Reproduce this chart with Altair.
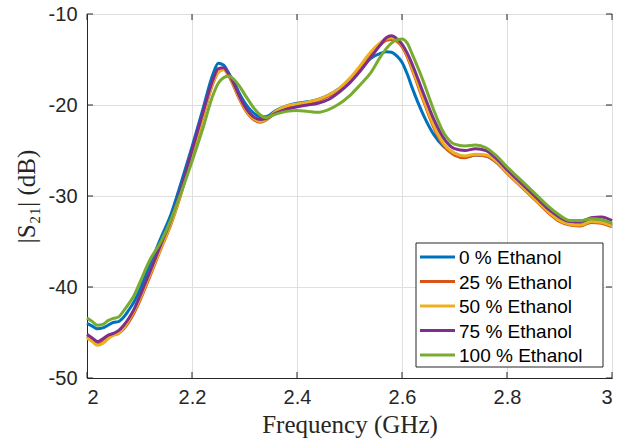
import altair as alt
import pandas as pd

freq = [2.00, 2.01, 2.02, 2.03, 2.04, 2.05, 2.06, 2.07, 2.08, 2.09, 2.10,
        2.12, 2.14, 2.16, 2.18, 2.20, 2.22, 2.24,
        2.25, 2.26, 2.27, 2.28, 2.29, 2.30,
        2.32, 2.33, 2.34,
        2.36, 2.38, 2.40, 2.42, 2.44, 2.46, 2.48, 2.50, 2.52, 2.54, 2.56,
        2.57, 2.58, 2.59, 2.60, 2.61,
        2.62, 2.64, 2.66, 2.68, 2.70, 2.72, 2.74, 2.76, 2.78, 2.80,
        2.82, 2.84, 2.86, 2.88, 2.90, 2.92, 2.94, 2.96, 2.98, 3.00]

s0 = [-44.0, -44.3, -44.6, -44.5, -44.2, -43.9, -43.8, -43.3, -42.5, -41.6, -40.4,
      -37.5, -34.7, -32.0, -28.4, -24.6, -20.6, -16.6,
      -15.4, -15.6, -16.5, -17.5, -18.7, -19.7,
      -21.0, -21.3, -21.3,
      -20.6, -20.1, -19.8, -19.65, -19.4, -18.9, -18.2, -17.2, -16.0, -14.9, -14.3,
      -14.15, -14.2, -14.6, -15.3, -16.6,
      -18.2, -21.0, -23.2, -24.6, -25.3, -25.7, -25.5, -25.6, -26.3, -27.4,
      -28.5, -29.6, -30.7, -31.8, -32.6, -33.0, -33.1, -32.8, -32.8, -33.2]

s25 = [-45.4, -45.8, -46.2, -46.0, -45.6, -45.3, -45.1, -44.6, -43.8, -42.8, -41.6,
       -38.8, -35.9, -33.1, -29.6, -25.5, -21.5, -17.6,
       -16.4, -16.1, -16.8, -18.0, -19.3, -20.4,
       -21.7, -21.9, -21.7,
       -20.8, -20.2, -20.0, -19.8, -19.5, -19.0, -18.3, -17.3, -15.9, -14.4, -13.3,
       -12.9, -12.8, -13.0, -13.6, -14.7,
       -16.2, -19.4, -22.4, -24.5, -25.5, -25.8, -25.5, -25.6, -26.3, -27.5,
       -28.6, -29.7, -30.8, -31.9, -32.8, -33.2, -33.3, -32.9, -33.0, -33.4]

s50 = [-45.6, -46.0, -46.4, -46.2, -45.7, -45.3, -45.1, -44.5, -43.6, -42.6, -41.4,
       -38.6, -35.8, -33.0, -29.5, -25.4, -21.4, -17.5,
       -16.4, -16.1, -16.7, -17.9, -19.2, -20.3,
       -21.6, -21.8, -21.6,
       -20.7, -20.1, -19.9, -19.7, -19.4, -18.9, -18.2, -17.1, -15.7, -14.2, -13.1,
       -12.7, -12.6, -12.8, -13.4, -14.5,
       -16.0, -19.2, -22.2, -24.3, -25.3, -25.6, -25.4, -25.5, -26.2, -27.4,
       -28.5, -29.6, -30.7, -31.8, -32.7, -33.1, -33.2, -32.8, -32.9, -33.3]

s75 = [-45.2, -45.6, -46.0, -45.7, -45.3, -45.1, -44.8, -44.2, -43.4, -42.4, -41.1,
       -38.3, -35.4, -32.6, -29.0, -25.0, -21.0, -17.2,
       -16.0, -15.9, -16.6, -17.7, -19.0, -20.1,
       -21.4, -21.6, -21.5,
       -20.9, -20.5, -20.2, -20.0, -19.8, -19.4, -18.6, -17.6, -16.3, -14.8, -13.3,
       -12.6, -12.4, -12.7, -13.3, -14.3,
       -15.6, -18.6, -21.5, -23.7, -24.8, -25.0, -24.8, -25.0, -25.9, -27.1,
       -28.2, -29.3, -30.4, -31.5, -32.3, -32.8, -32.8, -32.4, -32.3, -32.7]

s100 = [-43.4, -43.8, -44.2, -44.1, -43.7, -43.45, -43.3, -42.6, -41.8, -40.9, -39.6,
        -37.0, -35.1, -32.6, -29.5, -26.2, -22.7, -18.9,
        -17.6, -17.0, -16.8, -17.2, -17.9, -18.8,
        -20.5, -21.1, -21.4,
        -21.0, -20.7, -20.6, -20.7, -20.8, -20.5, -19.9, -19.0, -17.8, -16.5, -14.6,
        -13.8, -13.2, -12.85, -12.75, -13.2,
        -14.5, -17.3, -20.5, -23.1, -24.3, -24.5, -24.4, -24.7, -25.6, -26.8,
        -27.9, -29.0, -30.1, -31.2, -32.1, -32.7, -32.7, -32.5, -32.6, -33.0]

names = ["0 % Ethanol", "25 % Ethanol", "50 % Ethanol", "75 % Ethanol", "100 % Ethanol"]
colors = ["#0072BD", "#D95319", "#EDB120", "#7E2F8E", "#77AC30"]
x_ticks = [2.0, 2.2, 2.4, 2.6, 2.8, 3.0]
y_ticks = [-50, -40, -30, -20, -10]

series = [s0, s25, s50, s75, s100]
rows = []
for name, vals in zip(names, series):
    for i, (f, v) in enumerate(zip(freq, vals)):
        rows.append({"f": f, "db": v, "series": name, "k": i})
df = pd.DataFrame(rows)

W, H = 525, 364
AX = "#262626"
GRID = "#dfdfdf"
SANS = "Liberation Sans"
SERIF = "Liberation Serif"

xscale = alt.Scale(domain=[2, 3], nice=False, zero=False)
yscale = alt.Scale(domain=[-50, -10], nice=False, zero=False)
cscale = alt.Scale(domain=names, range=colors)

xaxis = alt.Axis(
    values=x_ticks, grid=True, gridColor=GRID, gridWidth=1,
    domainColor=AX, domainWidth=1, ticks=False,
    labelExpr="datum.value + ''", labelFont=SANS, labelFontSize=20,
    labelColor=AX, labelPadding=9,
    title="Frequency (GHz)", titleFont=SERIF, titleFontSize=25,
    titleFontWeight="normal", titleColor=AX, titlePadding=5)
yaxis = alt.Axis(
    values=y_ticks, grid=True, gridColor=GRID, gridWidth=1,
    domainColor=AX, domainWidth=1, ticks=False,
    labelExpr="datum.value + ''", labelFont=SANS, labelFontSize=20,
    labelColor=AX, labelPadding=10,
    title="|S₂₁| (dB)", titleFont=SERIF, titleFontSize=25,
    titleFontWeight="normal", titleColor=AX, titlePadding=9)

lines = alt.Chart(df).mark_line(strokeWidth=3, interpolate="monotone").encode(
    x=alt.X("f:Q", scale=xscale, axis=xaxis),
    y=alt.Y("db:Q", scale=yscale, axis=yaxis),
    color=alt.Color("series:N", scale=cscale, legend=None),
    order=alt.Order("k:Q"),
)

xt = pd.DataFrame({"t": x_ticks})
yt = pd.DataFrame({"t": y_ticks})

xt_bottom = alt.Chart(xt).mark_rule(color=AX, strokeWidth=1).encode(
    x=alt.X("t:Q", scale=xscale, axis=xaxis), y=alt.value(H), y2=alt.value(H - 6))
xt_top = alt.Chart(xt).mark_rule(color=AX, strokeWidth=1).encode(
    x=alt.X("t:Q", scale=xscale, axis=xaxis), y=alt.value(0), y2=alt.value(6))
yt_left = alt.Chart(yt).mark_rule(color=AX, strokeWidth=1).encode(
    y=alt.Y("t:Q", scale=yscale, axis=None), x=alt.value(0), x2=alt.value(6))
yt_right = alt.Chart(yt).mark_rule(color=AX, strokeWidth=1).encode(
    y=alt.Y("t:Q", scale=yscale, axis=None), x=alt.value(W), x2=alt.value(W - 6))

# legend (drawn as marks, rows placed by a point scale)
leg_df = pd.DataFrame({"series": names})
leg_box = alt.Chart(pd.DataFrame({"a": [0]})).mark_rect(
    fill="white", stroke=AX, strokeWidth=1).encode(
    x=alt.value(329), x2=alt.value(516), y=alt.value(229), y2=alt.value(353))
leg_y = alt.Y("series:N", scale=alt.Scale(type="point", domain=names, range=[243, 341], padding=0),
              axis=None)
leg_lines = alt.Chart(leg_df).mark_rule(strokeWidth=3).encode(
    x=alt.value(333), x2=alt.value(368), y=leg_y,
    color=alt.Color("series:N", scale=cscale, legend=None))
leg_text = alt.Chart(leg_df).mark_text(
    align="left", baseline="middle", font=SANS, fontSize=19, color="black", dy=1).encode(
    x=alt.value(372), y=leg_y, text="series:N")

chart = alt.layer(
    lines, xt_bottom, xt_top, yt_left, yt_right, leg_box, leg_lines, leg_text
).resolve_scale(y="independent").properties(
    width=W, height=H,
    autosize=alt.AutoSizeParams(type="none"),
    padding={"left": 87, "top": 14, "right": 11, "bottom": 62},
    background="white",
).configure_view(stroke=AX, strokeWidth=1)

chart.save("out.html", embed_options={"renderer": "svg", "actions": False})
